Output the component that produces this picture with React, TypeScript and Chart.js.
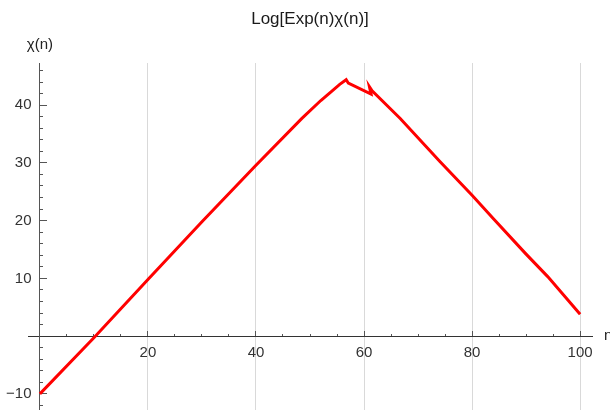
import React, { useEffect, useRef } from 'react';
import { Chart, registerables } from 'chart.js';

Chart.register(...registerables);

const titleText = 'Log[Exp(n)χ(n)]';
const xAxisLabel = 'n';
const yAxisLabel = 'χ(n)';

const nValues = [0, 10, 20, 30, 40, 48.5, 52, 54, 55.5, 56.7, 57.1, 61.3, 61.0, 61.5, 66.7, 74, 80, 84, 90, 94, 100];
const chiValues = [-10, -0.3, 9.8, 19.8, 29.6, 37.7, 40.8, 42.4, 43.6, 44.4, 43.8, 41.9, 43.2, 42.5, 37.7, 30.3, 24.4, 20.3, 14.2, 10.3, 3.8];

const xMinorTicks = [0, 5, 10, 15, 20, 25, 30, 35, 40, 45, 50, 55, 60, 65, 70, 75, 80, 85, 90, 95, 100];
const xLabeledTicks = [20, 40, 60, 80, 100];
const yMinorTicks = [-12, -10, -8, -6, -4, -2, 0, 2, 4, 6, 8, 10, 12, 14, 16, 18, 20, 22, 24, 26, 28, 30, 32, 34, 36, 38, 40, 42, 44, 46];
const yMajorTicks = [-10, 10, 20, 30, 40];
const yLabeledTicks = [-10, 10, 20, 30, 40];

const xMin = -2.2;
const xMax = 102.2;
const yMin = -12.8;
const yMax = 47.3;

const FONT = "'Liberation Sans', Arial, Helvetica, sans-serif";
const TICK_COLOR = '#555';
const CLEAR = 'rgba(0,0,0,0)';
const Y_LABEL_GAP = '  ';

const zeroFit = (s: any) => {
  if (s.isHorizontal()) s.height = 0;
  else s.width = 0;
  s.paddingTop = 0;
  s.paddingBottom = 0;
  s.paddingLeft = 0;
  s.paddingRight = 0;
};

export default function App() {
  const ref = useRef<HTMLCanvasElement>(null);

  useEffect(() => {
    if (!ref.current) return;
    const axisLabels = {
      id: 'axisLabels',
      afterDraw(chart: any) {
        const { ctx, scales } = chart;
        const x = scales.x;
        const y = scales.y;
        ctx.save();
        ctx.fillStyle = '#222';
        ctx.font = `15px ${FONT}`;
        ctx.textBaseline = 'middle';
        ctx.textAlign = 'left';
        ctx.fillText(xAxisLabel, x.right + 12, y.getPixelForValue(0));
        ctx.textAlign = 'center';
        ctx.fillText(yAxisLabel, x.getPixelForValue(0), y.top - 18);
        ctx.restore();
      },
    };

    const chart = new Chart(ref.current, {
      type: 'line',
      data: {
        datasets: [
          {
            data: nValues.map((n, i) => ({ x: n, y: chiValues[i] })),
            borderColor: '#ff0000',
            borderWidth: 3,
            pointRadius: 0,
            tension: 0,
            fill: false,
            borderJoinStyle: 'miter',
          },
        ],
      },
      options: {
        animation: false,
        responsive: false,
        devicePixelRatio: 1,
        layout: { autoPadding: false, padding: { left: 28, right: 18, top: 0, bottom: 0 } },
        plugins: {
          legend: { display: false },
          tooltip: { enabled: false },
          title: {
            display: true,
            text: titleText,
            color: '#1a1a1a',
            font: { family: FONT, size: 17, weight: 'normal', lineHeight: 1.2 },
            padding: { top: 9, bottom: 33.6 },
          },
        },
        scales: {
          x: {
            type: 'linear',
            min: xMin,
            max: xMax,
            position: { y: 0 },
            afterFit: zeroFit,
            afterBuildTicks: (s: any) => {
              s.ticks = xMinorTicks.map((v) => ({ value: v }));
            },
            ticks: {
              autoSkip: false,
              maxRotation: 0,
              color: '#333',
              padding: 11,
              font: { family: FONT, size: 15 },
              callback: (v: any) => (xLabeledTicks.includes(v) ? String(v) : ''),
            },
            grid: {
              color: (c: any) => (c.tick && xLabeledTicks.includes(c.tick.value) ? '#d9d9d9' : CLEAR),
              tickColor: TICK_COLOR,
              tickLength: -3,
              lineWidth: 1,
            },
            border: { color: '#333', width: 1 },
          },
          x2: {
            type: 'linear',
            axis: 'x',
            min: xMin,
            max: xMax,
            position: { y: 0 },
            afterFit: zeroFit,
            afterBuildTicks: (s: any) => {
              s.ticks = xLabeledTicks.map((v) => ({ value: v }));
            },
            ticks: { display: false },
            grid: { color: CLEAR, tickColor: TICK_COLOR, tickLength: -5, lineWidth: 1 },
            border: { display: false },
          },
          y: {
            type: 'linear',
            min: yMin,
            max: yMax,
            position: { x: 0 },
            afterFit: zeroFit,
            afterBuildTicks: (s: any) => {
              s.ticks = yMinorTicks.map((v) => ({ value: v }));
            },
            ticks: {
              autoSkip: false,
              color: '#333',
              padding: 8,
              font: { family: FONT, size: 15 },
              callback: (v: any) =>
                yLabeledTicks.includes(v)
                  ? (v < 0 ? '\u2212' + Math.abs(v) : String(v)) + Y_LABEL_GAP
                  : '',
            },
            grid: {
              color: CLEAR,
              tickColor: TICK_COLOR,
              tickLength: -4,
              lineWidth: 1,
            },
            border: { color: '#555', width: 1 },
          },
          y2: {
            type: 'linear',
            axis: 'y',
            min: yMin,
            max: yMax,
            position: { x: 0 },
            afterFit: zeroFit,
            afterBuildTicks: (s: any) => {
              s.ticks = yMajorTicks.map((v) => ({ value: v }));
            },
            ticks: { display: false },
            grid: { color: CLEAR, tickColor: TICK_COLOR, tickLength: -7, lineWidth: 1 },
            border: { display: false },
          },
        },
      },
      plugins: [axisLabels],
    } as any);

    return () => chart.destroy();
  }, []);

  return (
    <div style={{ position: 'absolute', left: 0, top: 0, width: 610, height: 410, background: '#fff' }}>
      <canvas ref={ref} width={610} height={410} style={{ display: 'block', width: 610, height: 410 }} />
    </div>
  );
}
